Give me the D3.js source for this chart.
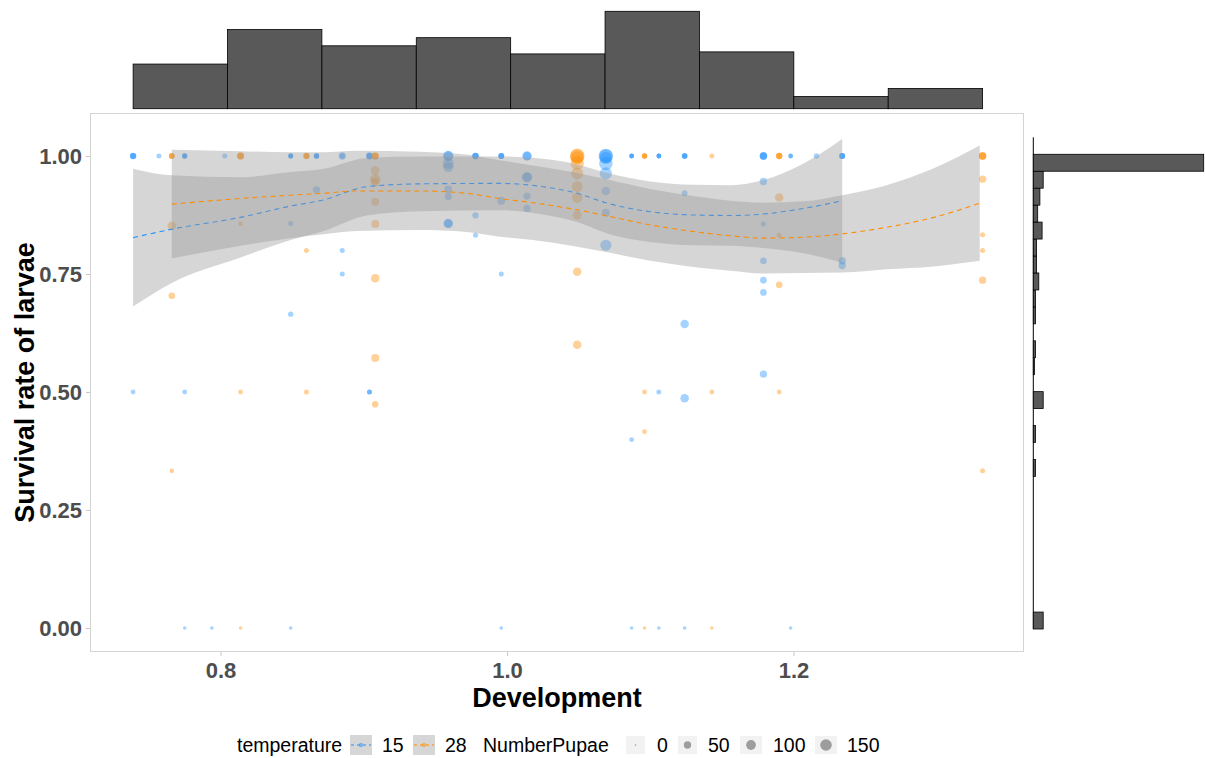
<!DOCTYPE html>
<html>
<head>
<meta charset="utf-8">
<script src="https://cdn.jsdelivr.net/npm/d3@7"></script>
<style>
  body { margin: 0; background: #ffffff; }
  svg { display: block; font-family: "Liberation Sans", Arial, sans-serif; }
</style>
</head>
<body>
<script>

// data points, one entry per replicate (one line per development value)
var development = [
  0.739, 0.739, 0.739, 0.739,
  0.757,
  0.766, 0.766, 0.766, 0.766, 0.766, 0.766,
  0.775, 0.775, 0.775, 0.775, 0.775,
  0.794,
  0.803,
  0.814, 0.814, 0.814, 0.814, 0.814, 0.814,
  0.849, 0.849, 0.849, 0.849, 0.849, 0.849,
  0.860, 0.860, 0.860, 0.860, 0.860,
  0.867, 0.867, 0.867, 0.867,
  0.885, 0.885, 0.885, 0.885,
  0.904, 0.904, 0.904, 0.904, 0.904,
  0.908, 0.908, 0.908, 0.908, 0.908, 0.908, 0.908, 0.908, 0.908, 0.908, 0.908,
  0.959, 0.959, 0.959, 0.959, 0.959, 0.959, 0.959, 0.959,
  0.978, 0.978, 0.978, 0.978, 0.978,
  0.996, 0.996, 0.996, 0.996, 0.996, 0.996,
  1.014, 1.014, 1.014, 1.014, 1.014, 1.014,
  1.049, 1.049, 1.049, 1.049, 1.049, 1.049, 1.049, 1.049, 1.049, 1.049,
  1.069, 1.069, 1.069, 1.069, 1.069, 1.069, 1.069, 1.069,
  1.087, 1.087, 1.087, 1.087, 1.087,
  1.096, 1.096, 1.096, 1.096, 1.096, 1.096,
  1.106, 1.106, 1.106, 1.106, 1.106,
  1.124, 1.124, 1.124, 1.124, 1.124, 1.124, 1.124,
  1.143, 1.143, 1.143,
  1.179, 1.179, 1.179, 1.179, 1.179, 1.179, 1.179, 1.179, 1.179,
  1.190, 1.190, 1.190, 1.190, 1.190, 1.190, 1.190,
  1.198, 1.198, 1.198,
  1.216,
  1.234, 1.234, 1.234, 1.234, 1.234,
  1.332, 1.332, 1.332, 1.332, 1.332, 1.332, 1.332, 1.332
];

var survival = [
  1, 1, 1, 0.5,
  1,
  1, 1, 1, 0.852, 0.704, 0.333,
  1, 1, 1, 0.5, 0,
  0,
  1,
  1, 1, 1, 0.856, 0.5, 0,
  1, 1, 1, 0.857, 0.665, 0,
  1, 1, 1, 0.8, 0.5,
  1, 1, 1, 0.928,
  1, 1, 0.8, 0.75,
  1, 1, 1, 0.5, 0.5,
  1, 1, 1, 0.969, 0.951, 0.945, 0.903, 0.856, 0.741, 0.572, 0.474,
  1, 1, 0.984, 0.977, 0.929, 0.914, 0.857, 0.857,
  1, 1, 1, 0.874, 0.832,
  1, 1, 1, 0.905, 0.75, 0,
  1, 1, 0.955, 0.955, 0.915, 0.889,
  1, 1, 0.996, 0.985, 0.963, 0.935, 0.912, 0.875, 0.755, 0.6,
  1, 1, 0.996, 0.984, 0.963, 0.926, 0.88, 0.811,
  1, 1, 1, 0.399, 0,
  1, 1, 1, 0.5, 0.416, 0,
  1, 1, 1, 0.5, 0,
  1, 1, 1, 0.921, 0.644, 0.487, 0,
  1, 0.5, 0,
  1, 1, 1, 0.946, 0.856, 0.778, 0.737, 0.711, 0.538,
  1, 1, 1, 0.912, 0.832, 0.727, 0.5,
  1, 1, 0,
  1,
  1, 1, 1, 0.778, 0.768,
  1, 1, 1, 0.951, 0.833, 0.8, 0.737, 0.333
];

var temperature = [
  15, 15, 15, 15,
  15,
  28, 28, 28, 28, 28, 28,
  15, 15, 15, 15, 15,
  15,
  15,
  28, 28, 28, 28, 28, 28,
  15, 15, 15, 15, 15, 15,
  28, 28, 28, 28, 28,
  15, 15, 15, 15,
  15, 15, 15, 15,
  15, 15, 15, 15, 15,
  28, 28, 28, 28, 28, 28, 28, 28, 28, 28, 28,
  15, 15, 15, 15, 15, 15, 15, 15,
  15, 15, 15, 15, 15,
  15, 15, 15, 15, 15, 15,
  15, 15, 15, 15, 15, 15,
  28, 28, 28, 28, 28, 28, 28, 28, 28, 28,
  15, 15, 15, 15, 15, 15, 15, 15,
  15, 15, 15, 15, 15,
  28, 28, 28, 28, 28, 28,
  15, 15, 15, 15, 15,
  15, 15, 15, 15, 15, 15, 15,
  28, 28, 28,
  15, 15, 15, 15, 15, 15, 15, 15, 15,
  28, 28, 28, 28, 28, 28, 28,
  15, 15, 15,
  15,
  15, 15, 15, 15, 15,
  28, 28, 28, 28, 28, 28, 28, 28
];

var pupae = [
  30, 20, 20, 10,
  12,
  15, 20, 20, 60, 30, 10,
  10, 15, 15, 10, 3,
  3,
  12,
  30, 40, 30, 10, 10, 3,
  10, 10, 15, 12, 15, 3,
  30, 20, 20, 12, 12,
  15, 15, 15, 40,
  40, 15, 12, 12,
  40, 20, 20, 12, 12,
  40, 30, 30, 60, 100, 70, 50, 50, 60, 50, 30,
  100, 80, 120, 100, 50, 40, 80, 60,
  30, 30, 20, 25, 12,
  20, 20, 20, 50, 12, 3,
  80, 60, 100, 80, 40, 40,
  240, 200, 170, 190, 150, 120, 110, 70, 60, 60,
  230, 190, 150, 190, 150, 60, 50, 120,
  10, 10, 10, 10, 3,
  15, 15, 15, 10, 10, 3,
  10, 10, 10, 12, 3,
  20, 15, 15, 20, 60, 60, 3,
  12, 10, 3,
  40, 40, 40, 40, 12, 30, 30, 30, 40,
  25, 25, 25, 60, 12, 30, 10,
  10, 10, 3,
  15,
  20, 20, 20, 40, 40,
  40, 40, 40, 40, 12, 12, 40, 12
];

// loess fits (fit and half width of the band)
var smooth15_x   = [0.739, 0.766, 0.814, 0.849, 0.872, 0.902, 0.939, 0.995, 1.025, 1.049, 1.070, 1.100, 1.130, 1.156, 1.179, 1.207, 1.234];
var smooth15_fit = [0.827, 0.845, 0.870, 0.894, 0.907, 0.935, 0.941, 0.942, 0.935, 0.921, 0.900, 0.882, 0.875, 0.874, 0.877, 0.889, 0.905];
var smooth15_ci  = [0.146, 0.114, 0.085, 0.072, 0.066, 0.061, 0.058, 0.057, 0.059, 0.061, 0.064, 0.064, 0.064, 0.064, 0.072, 0.095, 0.131];

var smooth28_x   = [0.766, 0.814, 0.849, 0.872, 0.895, 0.939, 0.972, 0.995, 1.018, 1.049, 1.070, 1.100, 1.130, 1.156, 1.179, 1.207, 1.234, 1.265, 1.298, 1.330];
var smooth28_fit = [0.898, 0.910, 0.917, 0.921, 0.926, 0.926, 0.921, 0.910, 0.901, 0.886, 0.873, 0.854, 0.840, 0.831, 0.826, 0.828, 0.835, 0.849, 0.870, 0.900];
var smooth28_ci  = [0.115, 0.100, 0.091, 0.087, 0.085, 0.083, 0.082, 0.081, 0.079, 0.078, 0.077, 0.076, 0.075, 0.074, 0.075, 0.076, 0.082, 0.089, 0.104, 0.122];

// marginal histograms (counts)
var top_counts = [22, 39, 31, 35, 27, 48, 28, 6, 10];
var right_bin_width = 1 / 27;
var right_counts = [9, 0, 0, 0, 0, 0, 0, 0, 0, 2, 0, 2, 0, 9, 0, 1, 2, 0, 2, 2, 5, 3, 3, 8, 4, 6, 9, 155];

// tick labels and legend
var x_ticks = [0.8, 1.0, 1.2];
var y_ticks = [0, 0.25, 0.5, 0.75, 1];
var temp_levels = [15, 28];
var size_breaks = [0, 50, 100, 150];

var colours = {15: "#1E90FF", 28: "#FF8C00"};

function draw() {

    var svg = d3.select("body")
                .append("svg")
                .attr("width", 1205)
                .attr("height", 758);

    svg.append("rect")
       .attr("width", 1205)
       .attr("height", 758)
       .attr("fill", "#ffffff");

    // scales of the main panel
    var x_scale = d3.scaleLinear()
        .domain([0.7089, 1.3609])
        .range([90, 1024]);

    var y_scale = d3.scaleLinear()
        .domain([-0.0508, 1.0911])
        .range([652, 113]);

    var size_scale = d3.scaleSqrt()
        .domain([0, 150])
        .range([1.1, 6.1]);

    // clip to the panel
    svg.append("clipPath")
       .attr("id", "panel")
       .append("rect")
       .attr("x", 90).attr("y", 113)
       .attr("width", 934).attr("height", 539);

    var panel = svg.append("g").attr("clip-path", "url(#panel)");

    var points = development.map(function(d, i) {
        return {dev: d, surv: survival[i], temp: temperature[i], n: pupae[i]};
    });

    // draw data points
    panel.selectAll("circle")
       .data(points)
       .enter()
       .append("circle")
       .attr("cx", function(d) { return x_scale(d.dev); })
       .attr("cy", function(d) { return y_scale(d.surv); })
       .attr("r", function(d) { return size_scale(d.n); })
       .attr("fill", function(d) { return colours[d.temp]; })
       .attr("fill-opacity", 0.4);

    // smooth bands and lines
    var smooths = [
        {temp: 15, x: smooth15_x, fit: smooth15_fit, ci: smooth15_ci},
        {temp: 28, x: smooth28_x, fit: smooth28_fit, ci: smooth28_ci}
    ];

    smooths.forEach(function(s) {

        var rows = s.x.map(function(d, i) {
            return {x: d, fit: s.fit[i], lo: s.fit[i] - s.ci[i], hi: s.fit[i] + s.ci[i]};
        });

        var band = d3.area()
            .x(function(d) { return x_scale(d.x); })
            .y0(function(d) { return y_scale(d.lo); })
            .y1(function(d) { return y_scale(d.hi); })
            .curve(d3.curveMonotoneX);

        var line = d3.line()
            .x(function(d) { return x_scale(d.x); })
            .y(function(d) { return y_scale(d.fit); })
            .curve(d3.curveMonotoneX);

        panel.append("path")
           .datum(rows)
           .attr("d", band)
           .attr("fill", "#999999")
           .attr("fill-opacity", 0.4);

        panel.append("path")
           .datum(rows)
           .attr("d", line)
           .attr("fill", "none")
           .attr("stroke", colours[s.temp])
           .attr("stroke-width", 1.1)
           .attr("stroke-dasharray", "5,4");
    });

    // panel border
    svg.append("rect")
       .attr("x", 90.5).attr("y", 113.5)
       .attr("width", 933).attr("height", 538)
       .attr("fill", "none")
       .attr("stroke", "#D4D4D4")
       .attr("stroke-width", 1);

    // draw x axis
    var x_axis = d3.axisBottom(x_scale)
        .tickValues(x_ticks)
        .tickFormat(d3.format(".1f"))
        .tickSize(4)
        .tickPadding(6);

    var gx = svg.append("g")
        .attr("transform", "translate(0,652)")
        .call(x_axis);

    // draw y axis
    var y_axis = d3.axisLeft(y_scale)
        .tickValues(y_ticks)
        .tickFormat(d3.format(".2f"))
        .tickSize(4)
        .tickPadding(4);

    var gy = svg.append("g")
        .attr("transform", "translate(90,0)")
        .call(y_axis);

    [gx, gy].forEach(function(g) {
        g.select(".domain").remove();
        g.selectAll(".tick line").attr("stroke", "#C8C8C8");
        g.selectAll(".tick text")
         .attr("fill", "#4D4D4D")
         .attr("font-size", "22px")
         .attr("font-weight", "bold")
         .attr("font-family", "'Liberation Sans', Arial, sans-serif");
    });

    // text for the x axis
    svg.append("text")
       .attr("x", 557)
       .attr("y", 707)
       .attr("text-anchor", "middle")
       .attr("font-size", "27px")
       .attr("font-weight", "bold")
       .text("Development");

    // text for the y axis
    svg.append("text")
       .attr("transform", "translate(34,382.5) rotate(-90)")
       .attr("text-anchor", "middle")
       .attr("font-size", "27px")
       .attr("font-weight", "bold")
       .text("Survival rate of larvae");

    // top marginal histogram
    var ext = d3.extent(development);
    var bin_w = (ext[1] - ext[0]) / top_counts.length;

    var y_top = d3.scaleLinear()
        .domain([0, 48])
        .range([108.7, 11.3]);

    svg.append("g")
       .selectAll("rect")
       .data(top_counts)
       .enter()
       .append("rect")
       .attr("x", function(d, i) { return x_scale(ext[0] + i * bin_w); })
       .attr("width", function(d, i) { return x_scale(ext[0] + (i + 1) * bin_w) - x_scale(ext[0] + i * bin_w); })
       .attr("y", function(d) { return y_top(d); })
       .attr("height", function(d) { return y_top(0) - y_top(d); })
       .attr("fill", "#595959")
       .attr("stroke", "#000000")
       .attr("stroke-width", 0.8);

    // right marginal histogram
    var y_right = d3.scaleLinear()
        .domain([-0.0185, 1.0556])
        .range([629, 137.3]);

    var x_right = d3.scaleLinear()
        .domain([0, 155])
        .range([1033.3, 1203.7]);

    svg.append("line")
       .attr("x1", x_right(0)).attr("x2", x_right(0))
       .attr("y1", y_right(1.0556)).attr("y2", y_right(-0.0185))
       .attr("stroke", "#000000")
       .attr("stroke-width", 1);

    var right_rows = right_counts.map(function(d, i) { return {n: d, k: i}; })
        .filter(function(d) { return d.n > 0; });

    svg.append("g")
       .selectAll("rect")
       .data(right_rows)
       .enter()
       .append("rect")
       .attr("x", x_right(0))
       .attr("width", function(d) { return x_right(d.n) - x_right(0); })
       .attr("y", function(d) { return y_right((d.k + 0.5) * right_bin_width); })
       .attr("height", function(d) { return y_right((d.k - 0.5) * right_bin_width) - y_right((d.k + 0.5) * right_bin_width); })
       .attr("fill", "#595959")
       .attr("stroke", "#000000")
       .attr("stroke-width", 0.8);

    draw_legend(svg, size_scale);
}

function draw_legend(svg, size_scale) {

    var legend = svg.append("g").attr("font-size", "19.5px").attr("fill", "#000000");
    var cy = 745;

    legend.append("text")
       .attr("x", 237).attr("y", cy)
       .attr("dy", "0.35em")
       .text("temperature");

    // temperature keys: band fill, dashed line and point
    var temp_x = [350, 413];
    var temp_label_x = [382, 445];

    temp_levels.forEach(function(t, i) {
        var g = legend.append("g").attr("transform", "translate(" + temp_x[i] + "," + (cy - 10) + ")");
        g.append("rect")
         .attr("width", 22).attr("height", 20)
         .attr("fill", "#D6D6D6");
        g.append("line")
         .attr("x1", 1).attr("x2", 21)
         .attr("y1", 10).attr("y2", 10)
         .attr("stroke", colours[t])
         .attr("stroke-width", 1.1)
         .attr("stroke-dasharray", "3,3");
        g.append("circle")
         .attr("cx", 11).attr("cy", 10)
         .attr("r", 2.2)
         .attr("fill", colours[t])
         .attr("fill-opacity", 0.5);
        legend.append("text")
         .attr("x", temp_label_x[i]).attr("y", cy)
         .attr("dy", "0.35em")
         .text(t);
    });

    legend.append("text")
       .attr("x", 483).attr("y", cy)
       .attr("dy", "0.35em")
       .text("NumberPupae");

    // size keys
    var key_x = [626, 678, 740, 815];
    var key_w = [19, 19, 22, 22];
    var label_x = [657, 708, 773, 847];

    size_breaks.forEach(function(b, i) {
        legend.append("rect")
         .attr("x", key_x[i]).attr("y", cy - 9)
         .attr("width", key_w[i]).attr("height", 18)
         .attr("fill", "#F2F2F2");
        legend.append("circle")
         .attr("cx", key_x[i] + key_w[i] / 2).attr("cy", cy)
         .attr("r", size_scale(b) - 0.3)
         .attr("fill", "#000000")
         .attr("fill-opacity", 0.35);
        legend.append("text")
         .attr("x", label_x[i]).attr("y", cy)
         .attr("dy", "0.35em")
         .text(b);
    });
}

draw();

</script>
</body>
</html>
